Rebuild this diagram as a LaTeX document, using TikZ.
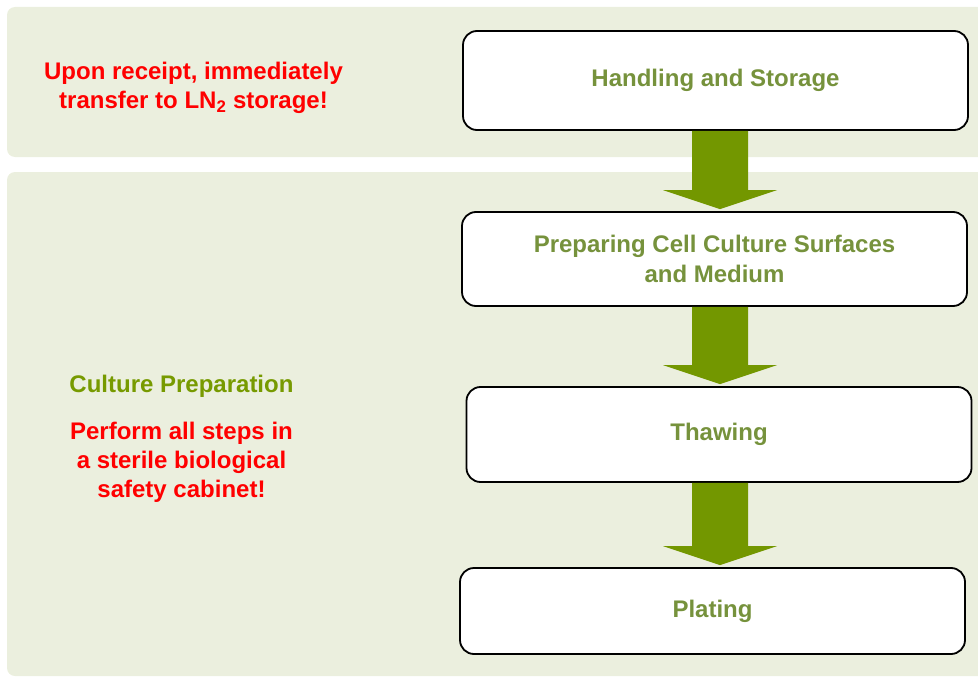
\documentclass[tikz,border=0pt]{standalone}
\usepackage{fontspec}
\setmainfont{Liberation Sans}
\usetikzlibrary{calc}
\definecolor{panelbg}{HTML}{EBEFDE}
\definecolor{boxtext}{HTML}{76923C}
\definecolor{arrowgreen}{HTML}{739700}
\definecolor{titlegreen}{HTML}{779A00}
\definecolor{warnred}{HTML}{FF0000}
\begin{document}
\begin{tikzpicture}[x=1pt,y=-1pt,
  panel/.style={fill=panelbg, rounded corners=8pt},
  stepbox/.style={draw=black, line width=1.8pt, fill=white, rounded corners=14pt,
    minimum width=505pt, align=center, text=boxtext,
    font=\fontsize{24}{30}\selectfont\bfseries, inner sep=0pt},
  warn/.style={text=warnred, align=center, font=\fontsize{24}{29}\selectfont\bfseries},
  flowarrow/.style={fill=arrowgreen}
]
\useasboundingbox (0,0) rectangle (978,677);
\clip (0,0) rectangle (978,677);
\fill[panel] (7,7) rectangle (995,157);
\fill[panel] (7,172) rectangle (995,676);

\node[warn] (receipt) at (193.5,88) {Upon receipt, immediately\\transfer to LN\textsubscript{2} storage!};
\node[text=titlegreen, font=\fontsize{24}{29}\selectfont\bfseries] (prep) at (181.5,386) {Culture Preparation};
\node[warn] (sterile) at (181.5,462) {Perform all steps in\\a sterile biological\\safety cabinet!};

\node[stepbox, minimum height=99pt] (hs) at (715.5,80.5) {Handling and Storage};
\node[stepbox, minimum height=94pt] (pc) at (714.5,259) {Preparing Cell Culture Surfaces\\and Medium};
\node[stepbox, minimum height=95pt] (th) at (719,434.5) {Thawing};
\node[stepbox, minimum height=86pt] (pl) at (712.5,611) {Plating};

\coordinate (ax) at (720,0);
\foreach \a/\b in {hs/pc, pc/th, th/pl}{
  \fill[flowarrow] ($(ax |- \a.south)+(-28,0)$) -- ($(ax |- \a.south)+(28,0)$)
    -- ($(ax |- \b.north)+(28,-21)$) -- ($(ax |- \b.north)+(57,-21)$)
    -- ($(ax |- \b.north)+(0,-2)$) -- ($(ax |- \b.north)+(-57,-21)$)
    -- ($(ax |- \b.north)+(-28,-21)$) -- cycle;
}
\end{tikzpicture}
\end{document}
